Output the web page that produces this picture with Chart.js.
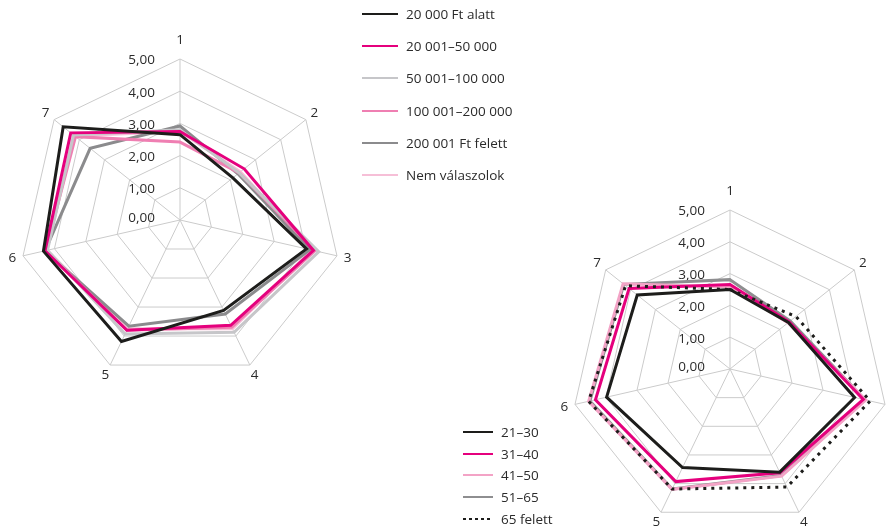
<!DOCTYPE html>
<html>
<head>
<meta charset="utf-8">
<script src="https://cdn.jsdelivr.net/npm/chart.js@4/dist/chart.umd.min.js"></script>
<style>
  html, body { margin: 0; padding: 0; background: #fff; }
  body { width: 892px; height: 528px; overflow: hidden; position: relative; font-family: "Open Sans", "Noto Sans", sans-serif; }
  canvas { position: absolute; }
  .legend { position: absolute; font-size: 13.5px; color: #2b2b2b; }
  .item { position: absolute; left: 0; height: 20px; white-space: nowrap; }
  .swatch { position: absolute; left: 0; top: 9px; height: 2px; }
  .item span { position: absolute; top: 0; line-height: 20px; }
</style>
</head>
<body>
<canvas id="income" width="382" height="382" style="left:-11px; top:29px;"></canvas>
<canvas id="age" width="378" height="378" style="left:541px; top:180px;"></canvas>
<div class="legend" id="incomeLegend" style="left:362px; top:4px;"></div>
<div class="legend" id="ageLegend" style="left:463px; top:422px;"></div>
<script>
// Axis categories and value ticks shared by both radars
const axisLabels = ['1', '2', '3', '4', '5', '6', '7'];
const tickValues = [0, 1, 2, 3, 4, 5];
const tickLabels = ['0,00', '1,00', '2,00', '3,00', '4,00', '5,00'];

// Income groups
const incomeNames = ['20 000 Ft alatt', '20 001–50 000', '50 001–100 000', '100 001–200 000', '200 001 Ft felett', 'Nem válaszolok'];
const incomeUnder20k   = [2.65, 2.10, 4.03, 3.12, 4.19, 4.35, 4.64];
const income20to50k    = [2.75, 2.55, 4.25, 3.63, 3.80, 4.30, 4.34];
const income50to100k   = [2.80, 2.35, 4.42, 3.87, 3.93, 4.22, 4.23];
const income100to200k  = [2.42, 2.35, 4.30, 3.70, 3.80, 4.28, 4.15];
const incomeOver200k   = [2.92, 2.30, 4.14, 3.24, 3.66, 4.30, 3.57];
const incomeNoAnswer   = [2.75, 2.40, 4.20, 3.75, 3.75, 4.25, 4.20];

// Age groups
const ageNames = ['21–30', '31–40', '41–50', '51–65', '65 felett'];
const age21to30 = [2.50, 2.35, 4.02, 3.60, 3.44, 3.98, 3.73];
const age31to40 = [2.66, 2.38, 4.30, 3.62, 3.93, 4.34, 4.06];
const age41to50 = [2.58, 2.33, 4.38, 3.74, 4.20, 4.56, 4.30];
const age51to65 = [2.81, 2.42, 4.35, 3.72, 4.19, 4.52, 4.27];
const age65plus = [2.50, 2.65, 4.52, 4.12, 4.19, 4.56, 4.20];

const incomeColors = ['#1d1d1b', '#e5007d', '#c6c6c9', '#ef7fb2', '#8b8b8d', '#f6bfd7'];
const ageColors = ['#1d1d1b', '#e5007d', '#f3a3c6', '#8e8e90', '#1d1d1b'];

const TEXT_COLOR = '#2b2b2b';
const FONT = '13.5px "Open Sans", "Noto Sans", sans-serif';

// Value labels left of the vertical axis and the axis numbers around the web
const radarText = {
  id: 'radarText',
  beforeDatasetsDraw(chart) {
    const s = chart.scales.r;
    const ctx = chart.ctx;
    ctx.save();
    ctx.font = FONT;
    ctx.fillStyle = TEXT_COLOR;
    ctx.textAlign = 'right';
    ctx.textBaseline = 'middle';
    tickValues.forEach((v, i) => {
      const y = s.yCenter - s.getDistanceFromCenterForValue(v);
      ctx.fillText(tickLabels[i], s.xCenter - 25, y + 1.5 - (v === 0 ? 3 : 0));
    });
    ctx.restore();
  },
  afterDraw(chart) {
    const s = chart.scales.r;
    const ctx = chart.ctx;
    ctx.save();
    ctx.font = FONT;
    ctx.fillStyle = TEXT_COLOR;
    ctx.textAlign = 'center';
    ctx.textBaseline = 'middle';
    axisLabels.forEach((lab, i) => {
      const p = s.getPointPosition(i, s.drawingArea + (i === 0 ? 19 : 11));
      ctx.fillText(lab, p.x, p.y);
    });
    ctx.restore();
  }
};

function radarOptions() {
  return {
    responsive: false,
    animation: false,
    events: [],
    layout: { padding: 30 },
    plugins: { legend: { display: false }, tooltip: { enabled: false } },
    elements: {
      line: { tension: 0, borderWidth: 3, fill: false, borderJoinStyle: 'miter' },
      point: { radius: 0, hoverRadius: 0 }
    },
    scales: {
      r: {
        min: 0, max: 5,
        ticks: { display: false, stepSize: 1 },
        pointLabels: { display: false },
        grid: { color: '#cbcbcb', lineWidth: 1 },
        angleLines: { color: '#cbcbcb', lineWidth: 1 }
      }
    }
  };
}

new Chart(document.getElementById('income'), {
  type: 'radar',
  data: {
    labels: axisLabels,
    datasets: [incomeUnder20k, income20to50k, income50to100k, income100to200k, incomeOver200k, incomeNoAnswer]
      .map((d, i) => ({ label: incomeNames[i], data: d, borderColor: incomeColors[i], backgroundColor: incomeColors[i] }))
  },
  options: radarOptions(),
  plugins: [radarText]
});

new Chart(document.getElementById('age'), {
  type: 'radar',
  data: {
    labels: axisLabels,
    datasets: [age21to30, age31to40, age41to50, age51to65, age65plus].map((d, i) => {
      const ds = { label: ageNames[i], data: d, borderColor: ageColors[i], backgroundColor: ageColors[i] };
      if (i === 4) { ds.borderDash = [3, 5]; ds.order = -1; }
      return ds;
    })
  },
  options: radarOptions(),
  plugins: [radarText]
});

// Legends
function buildLegend(el, names, colors, lineLen, step, dottedIndex) {
  names.forEach((n, i) => {
    const item = document.createElement('div');
    item.className = 'item';
    item.style.top = (i * step) + 'px';
    const sw = document.createElement('div');
    sw.className = 'swatch';
    sw.style.width = lineLen + 'px';
    if (i === dottedIndex) {
      sw.style.background = 'repeating-linear-gradient(to right, ' + colors[i] + ' 0 3px, transparent 3px 6px)';
    } else {
      sw.style.background = colors[i];
    }
    const t = document.createElement('span');
    t.style.left = (lineLen + 8) + 'px';
    t.textContent = n;
    item.appendChild(sw);
    item.appendChild(t);
    el.appendChild(item);
  });
}
buildLegend(document.getElementById('incomeLegend'), incomeNames, incomeColors, 36, 32.2, -1);
buildLegend(document.getElementById('ageLegend'), ageNames, ageColors, 30, 21.7, 4);
</script>
</body>
</html>
